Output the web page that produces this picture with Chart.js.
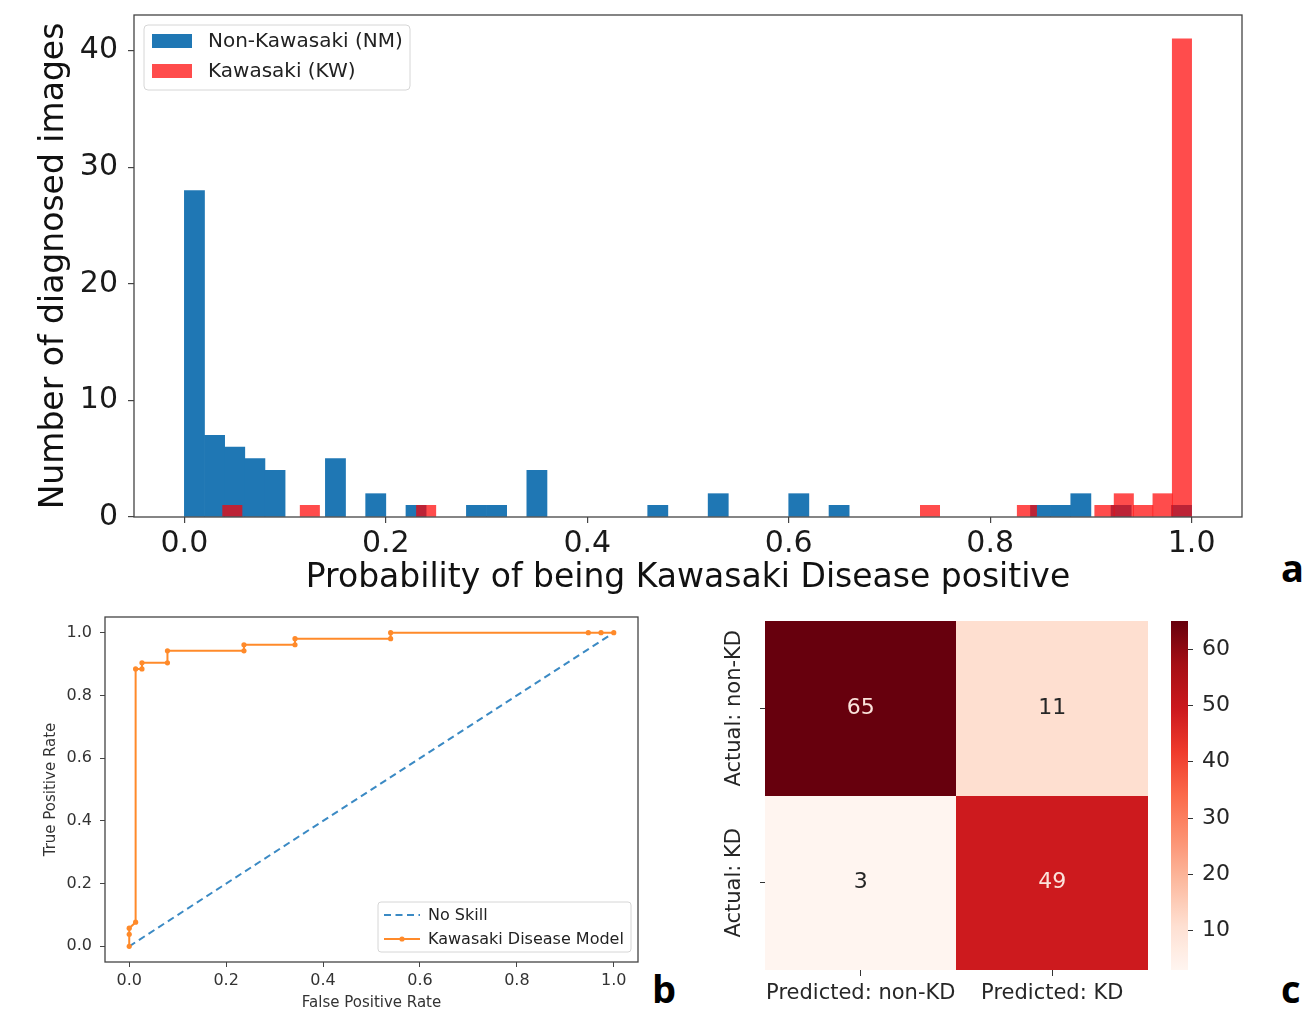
<!DOCTYPE html>
<html><head><meta charset="utf-8">
<script src="https://cdn.jsdelivr.net/npm/chart.js@4.4.1/dist/chart.umd.min.js"></script>
<style>
html,body{margin:0;padding:0;background:#fff;width:1304px;height:1011px;overflow:hidden;}
canvas{position:absolute;}
.panel{position:absolute;font-family:"Open Sans","Liberation Sans",sans-serif;font-weight:700;font-size:38px;line-height:38px;color:#000;}
</style></head><body>
<canvas id="hist" width="1260" height="600" style="left:0px;top:0px"></canvas>
<canvas id="roc" width="620" height="401" style="left:30px;top:610px"></canvas>
<canvas id="heat" width="460" height="401" style="left:700px;top:610px"></canvas>
<canvas id="cbar" width="110" height="401" style="left:1150px;top:610px"></canvas>
<div class="panel" style="left:1281px;top:548px">a</div>
<div class="panel" style="left:652px;top:969px">b</div>
<div class="panel" style="left:1281px;top:969px">c</div>
<script>
// ---------- Panel a: histogram data ----------
const histSeriesLabels = ['Non-Kawasaki (NM)', 'Kawasaki (KW)'];
const nmBinRange = [0.0, 1.0];      // 50 bins
const nmCounts = [28,7,6,5,4,0,0,5,0,2, 0,1,0,0,1,1,0,4,0,0, 0,0,0,1,0,0,2,0,0,0, 2,0,1,0,0,0,0,0,0,0, 0,0,1,1,2,0,1,0,0,1];
const kwBinRange = [0.038, 1.0];    // 50 bins
const kwCounts = [1,0,0,0,1,0,0,0,0,0, 1,0,0,0,0,0,0,0,0,0, 0,0,0,0,0,0,0,0,0,0, 0,0,0,0,0,0,1,0,0,0, 0,1,0,0,0,1,2,1,2,41];
const histXTicks = [0.0, 0.2, 0.4, 0.6, 0.8, 1.0];
const histYTicks = [0, 10, 20, 30, 40];

// ---------- Panel b: ROC data ----------
const rocSeriesLabels = ['No Skill', 'Kawasaki Disease Model'];
const noSkillFpr = [0, 1];
const noSkillTpr = [0, 1];
const rocFpr = [0, 0, 0, 0.0132, 0.0132, 0.0263, 0.0263, 0.0789, 0.0789, 0.2368, 0.2368, 0.3421, 0.3421, 0.5395, 0.5395, 0.9474, 0.9737, 1.0];
const rocTpr = [0, 0.0385, 0.0577, 0.0769, 0.8846, 0.8846, 0.9038, 0.9038, 0.9423, 0.9423, 0.9615, 0.9615, 0.9808, 0.9808, 1.0, 1.0, 1.0, 1.0];
const rocTicks = [0.0, 0.2, 0.4, 0.6, 0.8, 1.0];

// ---------- Panel c: confusion matrix ----------
const cmColLabels = ['Predicted: non-KD', 'Predicted: KD'];
const cmRowLabels = ['Actual: non-KD', 'Actual: KD'];
const cmRowNonKD = [65, 11];
const cmRowKD = [3, 49];
const cbarTicks = [10, 20, 30, 40, 50, 60];

// ---------- helpers ----------
Chart.defaults.font.family = "'DejaVu Sans', sans-serif";
Chart.defaults.color = '#222';
const FAM = "'DejaVu Sans', sans-serif";

function binData(counts, range) {
  const w = (range[1] - range[0]) / counts.length;
  return counts.map((c, i) => ({x: range[0] + (i + 0.5) * w, y: c > 0 ? c : null}));
}
function xyData(xs, ys) { return xs.map((x, i) => ({x: x, y: ys[i]})); }
const fixTicks = arr => (s => { s.ticks = arr.map(v => ({value: v})); });
const fitW = w => (s => { s.width = w; s.paddingTop = 0; s.paddingBottom = 0; s.paddingLeft = 0; s.paddingRight = 0; });
const fitH = h => (s => { s.height = h; s.paddingTop = 0; s.paddingBottom = 0; s.paddingLeft = 0; s.paddingRight = 0; });

const redsStops = [[255,245,240],[254,224,210],[252,187,161],[252,146,114],[251,106,74],[239,59,44],[203,24,29],[165,15,21],[103,0,13]];
function reds(t) {
  t = Math.max(0, Math.min(1, t));
  const p = t * 8, i = Math.min(7, Math.floor(p)), f = p - i;
  const a = redsStops[i], b = redsStops[i + 1];
  return 'rgb(' + a.map((v, k) => Math.round(v + (b[k] - v) * f)).join(',') + ')';
}

const framePlugin = {
  id: 'frame',
  afterDatasetsDraw(chart, args, opts) {
    const {ctx, chartArea: a} = chart;
    ctx.save();
    ctx.strokeStyle = opts.color || '#444';
    ctx.lineWidth = opts.width || 1.2;
    ctx.strokeRect(a.left, a.top, a.right - a.left, a.bottom - a.top);
    ctx.restore();
  }
};

function roundRect(ctx, x, y, w, h, r) {
  ctx.beginPath();
  ctx.moveTo(x + r, y); ctx.lineTo(x + w - r, y); ctx.quadraticCurveTo(x + w, y, x + w, y + r);
  ctx.lineTo(x + w, y + h - r); ctx.quadraticCurveTo(x + w, y + h, x + w - r, y + h);
  ctx.lineTo(x + r, y + h); ctx.quadraticCurveTo(x, y + h, x, y + h - r);
  ctx.lineTo(x, y + r); ctx.quadraticCurveTo(x, y, x + r, y); ctx.closePath();
}

// ---------- Panel a ----------
const histLegend = {
  id: 'histLegend',
  afterDraw(chart) {
    const {ctx, chartArea: a} = chart;
    const x0 = a.left + 10, y0 = a.top + 10, w = 266, h = 65;
    ctx.save();
    roundRect(ctx, x0, y0, w, h, 4);
    ctx.fillStyle = 'rgba(255,255,255,0.85)'; ctx.fill();
    ctx.strokeStyle = '#d6d6d6'; ctx.lineWidth = 1; ctx.stroke();
    ctx.font = '20px ' + FAM; ctx.textBaseline = 'middle'; ctx.textAlign = 'left';
    chart.data.datasets.forEach((d, i) => {
      const cy = y0 + 16 + i * 30;
      ctx.fillStyle = d.backgroundColor;
      ctx.fillRect(x0 + 8, cy - 7, 40, 14);
      ctx.fillStyle = '#222';
      ctx.fillText(d.label, x0 + 64, cy + 1);
    });
    ctx.restore();
  }
};

new Chart(document.getElementById('hist'), {
  type: 'bar',
  data: {datasets: [
    {label: histSeriesLabels[0], data: binData(nmCounts, nmBinRange), backgroundColor: '#1f77b4',
     xAxisID: 'x', yAxisID: 'y', order: 1, barPercentage: 1, categoryPercentage: 1, grouped: false, borderWidth: 0},
    {label: histSeriesLabels[1], data: binData(kwCounts, kwBinRange), backgroundColor: 'rgba(255,0,0,0.7)',
     xAxisID: 'x2', yAxisID: 'y', order: 0, barPercentage: 1, categoryPercentage: 1, grouped: false, borderWidth: 0}
  ]},
  options: {
    responsive: false, animation: false, events: [],
    layout: {padding: {top: 15, right: 18, left: 0, bottom: 0}},
    plugins: {legend: {display: false}, tooltip: {enabled: false}, frame: {color: '#444', width: 1.3}},
    scales: {
      x: {type: 'linear', min: -0.05, max: 1.05, position: 'bottom', offset: false,
          afterBuildTicks: fixTicks(histXTicks), afterFit: fitH(83),
          grid: {drawOnChartArea: false, drawTicks: true, tickLength: 6, color: '#444', lineWidth: 1.2, offset: false},
          border: {display: false},
          ticks: {font: {size: 30}, color: '#1a1a1a', padding: 3, maxRotation: 0, autoSkip: false, callback: v => v.toFixed(1)},
          title: {display: true, text: 'Probability of being Kawasaki Disease positive', color: '#111', font: {size: 33}, padding: {top: 0, bottom: 2}}},
      x2: {type: 'linear', min: -0.05, max: 1.05, display: false, offset: false, grid: {offset: false}},
      y: {type: 'linear', min: 0, max: 43.05,
          afterBuildTicks: fixTicks(histYTicks), afterFit: fitW(134),
          grid: {drawOnChartArea: false, drawTicks: true, tickLength: 6, color: '#444', lineWidth: 1.2},
          border: {display: false},
          ticks: {font: {size: 30}, color: '#1a1a1a', padding: 10},
          title: {display: true, text: 'Number of diagnosed images', color: '#111', font: {size: 33}, padding: {top: 35, bottom: 0}}}
    }
  },
  plugins: [framePlugin, histLegend]
});

// ---------- Panel b ----------
const rocLegend = {
  id: 'rocLegend',
  afterDraw(chart) {
    const {ctx, chartArea: a} = chart;
    const w = 253, h = 50, x0 = a.right - 7 - w, y0 = a.bottom - 10 - h;
    ctx.save();
    roundRect(ctx, x0, y0, w, h, 3);
    ctx.fillStyle = 'rgba(255,255,255,0.85)'; ctx.fill();
    ctx.strokeStyle = '#d6d6d6'; ctx.lineWidth = 1; ctx.stroke();
    ctx.font = '16px ' + FAM; ctx.textBaseline = 'middle'; ctx.textAlign = 'left';
    chart.data.datasets.forEach((d, i) => {
      const cy = y0 + 13 + i * 24;
      ctx.strokeStyle = d.borderColor; ctx.lineWidth = 2;
      ctx.setLineDash(d.borderDash || []);
      ctx.beginPath(); ctx.moveTo(x0 + 6, cy); ctx.lineTo(x0 + 42, cy); ctx.stroke();
      ctx.setLineDash([]);
      if (d.pointRadius > 0) {
        ctx.fillStyle = d.borderColor;
        ctx.beginPath(); ctx.arc(x0 + 24, cy, d.pointRadius, 0, Math.PI * 2); ctx.fill();
      }
      ctx.fillStyle = '#222';
      ctx.fillText(d.label, x0 + 50, cy + 1);
    });
    ctx.restore();
  }
};

new Chart(document.getElementById('roc'), {
  type: 'scatter',
  data: {datasets: [
    {label: rocSeriesLabels[0], data: xyData(noSkillFpr, noSkillTpr), showLine: true, borderColor: '#3b8ac4',
     backgroundColor: '#3b8ac4', borderDash: [7, 4.5], borderWidth: 2, pointRadius: 0, order: 1},
    {label: rocSeriesLabels[1], data: xyData(rocFpr, rocTpr), showLine: true, borderColor: '#ff8a2a',
     backgroundColor: '#ff8a2a', borderWidth: 2, pointRadius: 2.6, pointBorderWidth: 0, tension: 0, order: 0}
  ]},
  options: {
    responsive: false, animation: false, events: [],
    layout: {padding: {top: 7, right: 12, left: 0, bottom: 0}},
    plugins: {legend: {display: false}, tooltip: {enabled: false}, frame: {color: '#444', width: 1.3}},
    scales: {
      x: {type: 'linear', min: -0.05, max: 1.05,
          afterBuildTicks: fixTicks(rocTicks), afterFit: fitH(49),
          grid: {drawOnChartArea: false, tickLength: 5, color: '#444'}, border: {display: false},
          ticks: {font: {size: 16}, color: '#333', padding: 4, maxRotation: 0, autoSkip: false, callback: v => v.toFixed(1)},
          title: {display: true, text: 'False Positive Rate', color: '#333', font: {size: 15, lineHeight: 1}, padding: {top: 0, bottom: 0}}},
      y: {type: 'linear', min: -0.05, max: 1.05,
          afterBuildTicks: fixTicks(rocTicks), afterFit: fitW(75),
          grid: {drawOnChartArea: false, tickLength: 5, color: '#444'}, border: {display: false},
          ticks: {font: {size: 16}, color: '#333', padding: 8, callback: v => v.toFixed(1)},
          title: {display: true, text: 'True Positive Rate', color: '#333', font: {size: 15}, padding: {top: 12, bottom: 0}}}
    }
  },
  plugins: [framePlugin, rocLegend]
});

// ---------- Panel c ----------
const cmRows = [cmRowNonKD, cmRowKD];
const cmAll = cmRows.flat();
const cbarRange = [Math.min(...cmAll), Math.max(...cmAll)];
const norm = v => (v - cbarRange[0]) / (cbarRange[1] - cbarRange[0]);

const cellText = {
  id: 'cellText',
  afterDatasetsDraw(chart) {
    const {ctx} = chart;
    ctx.save();
    ctx.font = '22px ' + FAM; ctx.textAlign = 'center'; ctx.textBaseline = 'middle';
    chart.data.datasets.forEach((d, di) => {
      chart.getDatasetMeta(di).data.forEach((el, i) => {
        const v = d.values[i];
        ctx.fillStyle = norm(v) > 0.5 ? '#fbe3dc' : '#262626';
        ctx.fillText(String(v), el.x, (el.y + el.base) / 2);
      });
    });
    ctx.restore();
  }
};
const rowLabels = {
  id: 'rowLabels',
  afterDraw(chart) {
    const {ctx} = chart; const s = chart.scales.y;
    ctx.save();
    ctx.font = '21px ' + FAM; ctx.fillStyle = '#262626'; ctx.textAlign = 'center'; ctx.textBaseline = 'middle';
    s.ticks.forEach((t, i) => {
      ctx.save();
      ctx.translate(s.right - 30, s.getPixelForValue(t.value));
      ctx.rotate(-Math.PI / 2);
      ctx.fillText(cmRowLabels[i], 0, 0);
      ctx.restore();
    });
    ctx.restore();
  }
};

new Chart(document.getElementById('heat'), {
  type: 'bar',
  data: {
    labels: cmColLabels,
    datasets: cmRows.map((row, r) => ({
      label: cmRowLabels[r], values: row,
      data: row.map(() => [r, r + 1]),
      backgroundColor: row.map(v => reds(norm(v))),
      barPercentage: 1, categoryPercentage: 1, grouped: false, borderWidth: 0, inflateAmount: 0.5
    }))
  },
  options: {
    responsive: false, animation: false, events: [],
    layout: {padding: {top: 11, right: 12, left: 0, bottom: 0}},
    plugins: {legend: {display: false}, tooltip: {enabled: false}},
    scales: {
      x: {type: 'category', afterFit: fitH(41),
          grid: {drawOnChartArea: false, tickLength: 6, color: '#333', offset: false}, border: {display: false},
          ticks: {font: {size: 21}, color: '#262626', padding: 5, maxRotation: 0, autoSkip: false}},
      y: {type: 'linear', min: 0, max: 2, reverse: true,
          afterBuildTicks: s => { s.ticks = cmRowLabels.map((l, i) => ({value: i + 0.5})); },
          afterFit: fitW(65),
          grid: {drawOnChartArea: false, tickLength: 5, color: '#333'}, border: {display: false},
          ticks: {display: false}}
    }
  },
  plugins: [cellText, rowLabels]
});

new Chart(document.getElementById('cbar'), {
  type: 'bar',
  data: {
    labels: [''],
    datasets: [{
      data: [cbarRange],
      barPercentage: 1, categoryPercentage: 1, borderWidth: 0,
      backgroundColor: c => {
        const ch = c.chart; if (!ch.chartArea) return '#fff';
        const y = ch.scales.y;
        const g = ch.ctx.createLinearGradient(0, y.getPixelForValue(cbarRange[0]), 0, y.getPixelForValue(cbarRange[1]));
        for (let i = 0; i <= 32; i++) g.addColorStop(i / 32, reds(i / 32));
        return g;
      }
    }]
  },
  options: {
    responsive: false, animation: false, events: [],
    layout: {padding: {top: 11, right: 0, left: 21, bottom: 41}},
    plugins: {legend: {display: false}, tooltip: {enabled: false}},
    scales: {
      x: {type: 'category', display: false},
      y: {type: 'linear', position: 'right', min: cbarRange[0], max: cbarRange[1],
          afterBuildTicks: fixTicks(cbarTicks), afterFit: fitW(72),
          grid: {drawOnChartArea: false, tickLength: 5, color: '#333'}, border: {display: false},
          ticks: {font: {size: 22}, color: '#262626', padding: 9}}
    }
  }
});
</script>
</body></html>
